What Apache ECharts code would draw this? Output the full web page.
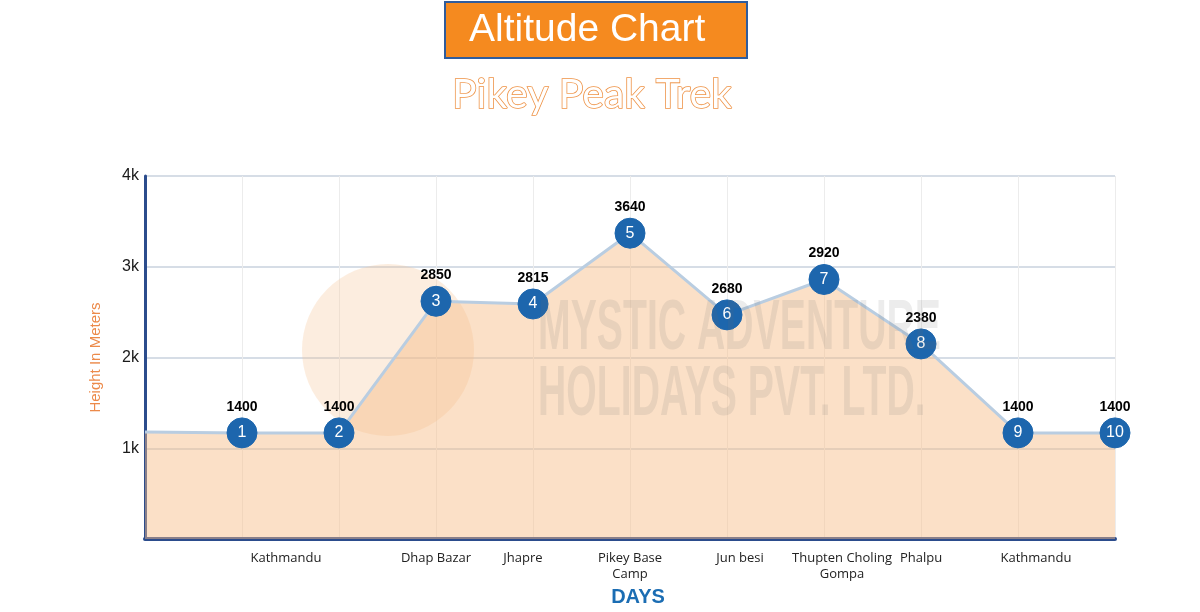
<!DOCTYPE html>
<html>
<head>
<meta charset="utf-8">
<script src="https://cdn.jsdelivr.net/npm/echarts@6/dist/echarts.min.js"></script>
<style>
  html, body { margin: 0; padding: 0; background: #fff; }
  #chart { width: 1200px; height: 612px; }
</style>
</head>
<body>
<div id="chart"></div>
<script>
// ---- data ----
const placeNames = ['', '', 'Kathmandu', 'Dhap Bazar', 'Jhapre', 'Pikey Base\nCamp', 'Jun besi', 'Thupten Choling\nGompa', 'Phalpu', 'Kathmandu', ''];
const dayNumbers = ['', '1', '2', '3', '4', '5', '6', '7', '8', '9', '10'];
const altitudeLabels = [null, 1400, 1400, 2850, 2815, 3640, 2680, 2920, 2380, 1400, 1400];
const plottedHeights = [1180, 1170, 1170, 2620, 2590, 3370, 2470, 2860, 2150, 1170, 1170];
const yTickValues = [1000, 2000, 3000, 4000];
const yTickLabels = ['1k', '2k', '3k', '4k'];

// ---- label nudges (style, kept apart from data) ----
const labelPad = { 2: [0, 106, 0, 0], 4: [0, 20, 0, 0], 6: [0, 0, 0, 26], 7: [0, 0, 0, 36], 9: [0, 0, 0, 36] };

const chart = echarts.init(document.getElementById('chart'));

const catData = placeNames.map((n, i) => labelPad[i] ? { value: n, textStyle: { padding: labelPad[i] } } : n);
const lineData = plottedHeights.map((v, i) => i === 0 ? { value: v, symbol: 'none', label: { show: false } } : v);

chart.setOption({
  animation: false,
  backgroundColor: '#ffffff',
  grid: { left: 145, right: 85, top: 176, bottom: 67 },
  xAxis: {
    type: 'category',
    boundaryGap: false,
    data: catData,
    name: 'DAYS',
    nameLocation: 'middle',
    nameGap: 40,
    nameTextStyle: { color: '#1b6db3', fontSize: 20, fontWeight: 'bold', fontFamily: 'Liberation Sans, Arial, sans-serif', padding: [0, 0, 0, 16] },
    axisLine: { show: true, lineStyle: { color: '#2b4c8c', width: 4 } },
    axisTick: { show: false },
    axisLabel: { interval: 0, margin: 11, color: '#222', fontSize: 13, fontFamily: 'Open Sans, sans-serif', lineHeight: 16 },
    splitLine: { show: true, lineStyle: { color: '#ececec', width: 1 } }
  },
  yAxis: {
    type: 'value',
    min: 0,
    max: 4000,
    interval: 1000,
    name: 'Height In Meters',
    nameLocation: 'middle',
    nameGap: 42,
    nameTextStyle: { color: '#ec8a4a', fontSize: 15, fontFamily: 'Liberation Sans, Arial, sans-serif' },
    axisLine: { show: true, lineStyle: { color: '#2b4c8c', width: 3 } },
    axisTick: { show: false },
    axisLabel: {
      margin: 6, color: '#1a1a1a', fontSize: 16, fontFamily: 'Liberation Sans, Arial, sans-serif',
      formatter: v => { const k = yTickValues.indexOf(v); return k >= 0 ? yTickLabels[k] : ''; }
    },
    splitLine: { show: true, lineStyle: { color: '#c9d2de', width: 1.5 } }
  },
  graphic: [
    { type: 'rect', z: 100, shape: { x: 445, y: 2, width: 302, height: 56 },
      style: { fill: '#f58a1f', stroke: '#2f5c9c', lineWidth: 2 } },
    { type: 'text', z: 101, x: 469, y: 30,
      style: { text: 'Altitude Chart', fill: '#ffffff', font: '39px Liberation Sans, Arial, sans-serif', verticalAlign: 'middle' } },
    { type: 'text', z: 101, x: 592, y: 95,
      style: { text: 'Pikey Peak Trek', fill: '#ffffff', stroke: '#ee9245', lineWidth: 1.6, font: '41px Lato, sans-serif', align: 'center', verticalAlign: 'middle' } },
    // faint watermark
    { type: 'circle', z: 1, silent: true, shape: { cx: 388, cy: 350, r: 86 },
      style: { fill: 'rgba(246,196,150,0.3)' } },
    { type: 'text', z: 50, silent: true, x: 538, y: 330, scaleX: 0.56,
      style: { text: 'MYSTIC ADVENTURE', fill: 'rgba(110,105,105,0.13)', font: 'bold 70px Liberation Sans, Arial, sans-serif', verticalAlign: 'middle' } },
    { type: 'text', z: 50, silent: true, x: 538, y: 396, scaleX: 0.56,
      style: { text: 'HOLIDAYS PVT. LTD.', fill: 'rgba(110,105,105,0.13)', font: 'bold 70px Liberation Sans, Arial, sans-serif', verticalAlign: 'middle' } }
  ],
  series: [
    {
      type: 'line',
      data: lineData,
      symbol: 'circle',
      symbolSize: 30,
      z: 3,
      lineStyle: { color: '#b9cde1', width: 3 },
      itemStyle: { color: '#1d66ad', borderColor: '#1d66ad' },
      areaStyle: { color: 'rgba(247,188,134,0.66)' },
      label: {
        show: true, position: 'inside', color: '#ffffff', fontSize: 16,
        fontFamily: 'Liberation Sans, Arial, sans-serif',
        formatter: p => dayNumbers[p.dataIndex]
      }
    },
    {
      type: 'scatter',
      data: plottedHeights.map((v, i) => i === 0 ? '-' : v),
      symbolSize: 30,
      z: 4,
      itemStyle: { color: 'rgba(0,0,0,0)', opacity: 1 },
      label: {
        show: true, position: 'top', distance: 4, color: '#000000', fontSize: 14, fontWeight: 'bold',
        fontFamily: 'Liberation Sans, Arial, sans-serif',
        formatter: p => altitudeLabels[p.dataIndex] == null ? '' : String(altitudeLabels[p.dataIndex])
      }
    }
  ]
});
</script>
</body>
</html>
